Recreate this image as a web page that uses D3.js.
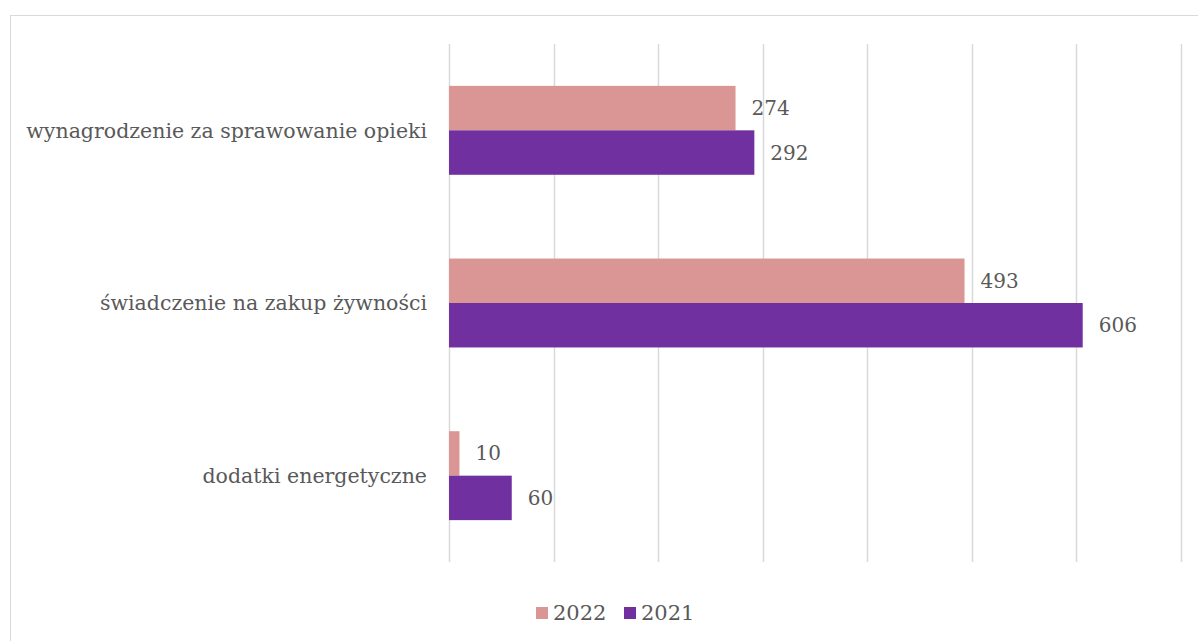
<!DOCTYPE html>
<html><head><meta charset="utf-8">
<script src="https://cdn.jsdelivr.net/npm/d3@7"></script>
<style>body{margin:0;background:#fff;} svg{display:block;}</style>
</head><body>
<svg id="c" width="1198" height="641"></svg>
<script>
const categories = ["wynagrodzenie za sprawowanie opieki", "świadczenie na zakup żywności", "dodatki energetyczne"];
const seriesNames = ["2022", "2021"];
const values2022 = [274, 493, 10];
const values2021 = [292, 606, 60];
const xTicks = [0, 100, 200, 300, 400, 500, 600, 700];
const colors = ["#D99694", "#7030A0"];

const font = "'DejaVu Serif', serif";
const textColor = "#595959";
const svg = d3.select("#c");

// chart border
svg.append("rect").attr("x", 10.5).attr("y", 15.5).attr("width", 1300).attr("height", 1000)
  .attr("fill", "none").attr("stroke", "#d9d9d9").attr("stroke-width", 1);

const x = d3.scaleLinear().domain([0, 700]).range([449, 1181]);
const y = d3.scaleBand().domain(categories).range([44, 562]).paddingInner(0.485).paddingOuter(0.2425);
const ySub = d3.scaleBand().domain(seriesNames).range([0, y.bandwidth()]);

// gridlines
svg.append("g").selectAll("line").data(xTicks).join("line")
  .attr("x1", d => Math.round(x(d)) + 0.5).attr("x2", d => Math.round(x(d)) + 0.5)
  .attr("y1", 44).attr("y2", 562).attr("stroke", "#d9d9d9").attr("stroke-width", 1.5);

const data = [];
categories.forEach((c, i) => {
  data.push({cat: c, s: "2022", v: values2022[i]});
  data.push({cat: c, s: "2021", v: values2021[i]});
});

svg.append("g").selectAll("rect").data(data).join("rect")
  .attr("x", x(0)).attr("y", d => y(d.cat) + ySub(d.s))
  .attr("width", d => x(d.v) - x(0)).attr("height", ySub.bandwidth())
  .attr("fill", d => colors[seriesNames.indexOf(d.s)]);

svg.append("g").selectAll("text").data(data).join("text")
  .attr("x", d => x(d.v) + 16).attr("y", d => y(d.cat) + ySub(d.s) + ySub.bandwidth() / 2)
  .attr("dy", "0.35em").attr("font-family", font).attr("font-size", 20).attr("fill", textColor)
  .text(d => d.v);

// category axis labels
svg.append("g").selectAll("text").data(categories).join("text")
  .attr("x", 427).attr("y", d => y(d) + y.bandwidth() / 2)
  .attr("dy", "0.35em").attr("text-anchor", "end")
  .attr("font-family", font).attr("font-size", 20.5).attr("fill", textColor)
  .text(d => d);

// legend
const legX = [536, 624];
const lg = svg.append("g");
seriesNames.forEach((s, i) => {
  lg.append("rect").attr("x", legX[i]).attr("y", 607).attr("width", 12).attr("height", 12).attr("fill", colors[i]);
  lg.append("text").attr("x", legX[i] + 17).attr("y", 613).attr("dy", "0.35em")
    .attr("font-family", font).attr("font-size", 21).attr("fill", textColor).text(s);
});
</script>
</body></html>
